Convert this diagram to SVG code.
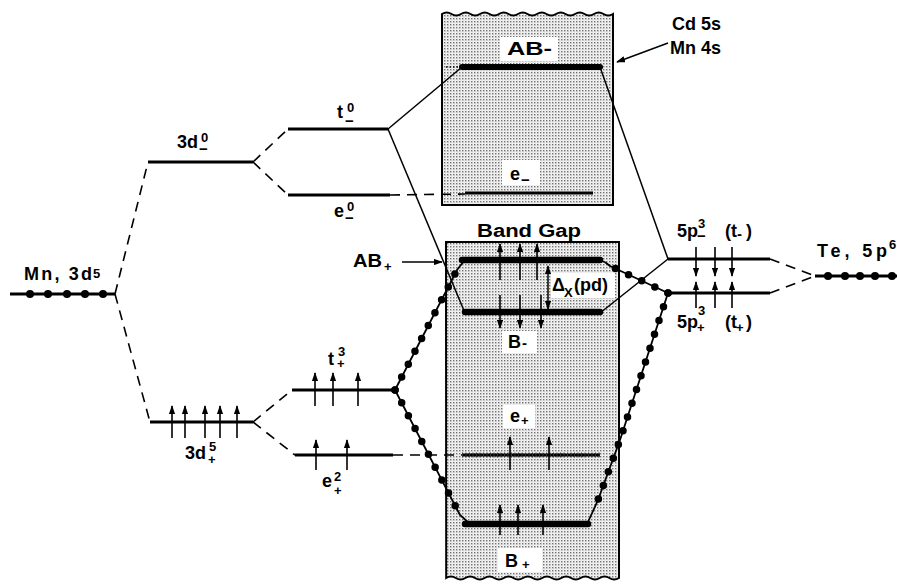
<svg xmlns="http://www.w3.org/2000/svg" width="897" height="588" viewBox="0 0 897 588">
<defs>
<pattern id="stip" width="3" height="3" patternUnits="userSpaceOnUse"><rect width="3" height="3" fill="#f4f4f4"/><rect x="0" y="0" width="1.4" height="1.4" fill="#707070"/><rect x="1.5" y="1.5" width="0.8" height="0.8" fill="#b0b0b0"/></pattern>
<marker id="ah" viewBox="0 0 10 7" refX="9" refY="3.5" markerWidth="9" markerHeight="6.5" markerUnits="userSpaceOnUse" orient="auto-start-reverse"><path d="M0,0 L10,3.5 L0,7 Z" fill="#000"/></marker>
</defs>
<style>
.lvl{stroke:#000;stroke-width:3;fill:none}
.thick{stroke:#000;stroke-width:6.5;fill:none;stroke-linecap:round;stroke-linejoin:round}
.dash{stroke:#000;stroke-width:1.6;fill:none;stroke-dasharray:10 7}
.thin{stroke:#000;stroke-width:1.5;fill:none}
.chain{stroke:#000;stroke-width:1.8;fill:none}
.dots{stroke:#000;stroke-width:7.5;fill:none;stroke-dasharray:0 14.5;stroke-linecap:round}
.spin{stroke:#000;stroke-width:1.6;fill:none;marker-end:url(#ah)}
.box{fill:url(#stip);stroke:#000;stroke-width:2}
.bg{fill:#fff}
.t{font-family:"Liberation Sans",Arial,Helvetica,sans-serif;font-weight:bold;font-size:18px;fill:#000}
.s{font-size:13px}
.m{font-size:15px}
</style>
<rect width="897" height="588" fill="#fff"/>

<g id="box-upper">
<path class="box" d="M442,205 V14 q4.75,-3 9.5,0 t9.5,0 t9.5,0 t9.5,0 t9.5,0 t9.5,0 t9.5,0 t9.5,0 t9.5,0 t9.5,0 t9.5,0 t9.5,0 t9.5,0 t9.5,0 t9.5,0 t9.5,0 t9.5,0 t9.5,0 V205 Z"/>
</g>
<g id="box-lower">
<path class="box" d="M446,242 H619 V578 q-4.8,3 -9.6,0 t-9.6,0 t-9.6,0 t-9.6,0 t-9.6,0 t-9.6,0 t-9.6,0 t-9.6,0 t-9.6,0 t-9.6,0 t-9.6,0 t-9.6,0 t-9.6,0 t-9.6,0 t-9.6,0 t-9.6,0 t-9.6,0 t-9.6,0 Z"/>
</g>

<g id="connectors">
<path class="dash" d="M115,294 L148,162"/>
<path class="dash" d="M115,294 L150,422"/>
<path class="dash" d="M253,162 L288,129"/>
<path class="dash" d="M253,162 L288,195"/>
<path class="dash" d="M390,195 L465,194"/>
<path class="dash" d="M253,422 L292,390"/>
<path class="dash" d="M253,422 L295,455"/>
<path class="dash" d="M393,455 L462,455"/>
<path class="dash" d="M770,259 L815,276"/>
<path class="dash" d="M770,293 L815,276"/>
<path class="thin" d="M388,129 L462,67"/>
<path class="thin" d="M388,129 L465,313"/>
<path class="thin" d="M600,67 L668,259"/>
<path class="thin" d="M600,313 L668,259"/>
<path class="chain" d="M395,390 L457,270 L464,261"/>
<path class="dots" d="M395,390 L457,270"/>
<path class="chain" d="M395,390 L460,515 L470,524"/>
<path class="dots" d="M395,390 L460,515"/>
<path class="chain" d="M600,260 Q606,262 610,266 L668,293"/>
<path class="dots" d="M668,293 L610,266"/>
<path class="chain" d="M668,293 L620,440 L598,500 L588,522"/>
<path class="dots" d="M668,293 L620,440 L598,500"/>
<path class="thin" d="M668,43 L617,62" marker-end="url(#ah)"/>
<path class="thin" d="M402,262 L442,262" marker-end="url(#ah)"/>
</g>

<g id="mn-3d5">
<path class="lvl" d="M10,294 H115"/>
<circle cx="30" cy="294" r="4"/><circle cx="48" cy="294" r="4"/><circle cx="67" cy="294" r="4"/><circle cx="85" cy="294" r="4"/><circle cx="103" cy="294" r="4"/>
<text class="t" x="24" y="280" textLength="68" lengthAdjust="spacing">Mn, 3d</text>
<text class="t s" x="93" y="278">5</text>
</g>

<g id="d-minus">
<path class="lvl" d="M148,162 H253"/>
<text class="t" x="177" y="148">3d</text>
<text class="t s" x="201" y="142">0</text>
<text class="t m" x="199" y="154">−</text>
</g>

<g id="t-minus">
<path class="lvl" d="M288,129 H388"/>
<text class="t" x="337" y="118">t</text>
<text class="t s" x="347" y="112">0</text>
<text class="t m" x="345" y="126">−</text>
</g>

<g id="e-minus">
<path class="lvl" d="M288,195 H390"/>
<text class="t" x="334" y="217">e</text>
<text class="t s" x="347" y="211">0</text>
<text class="t m" x="345" y="223">−</text>
</g>

<g id="d-plus">
<path class="lvl" d="M150,422 H253"/>
<path class="spin" d="M172,438 V406"/><path class="spin" d="M185,438 V406"/><path class="spin" d="M205,438 V406"/><path class="spin" d="M220,438 V406"/><path class="spin" d="M237,438 V406"/>
<text class="t" x="185" y="459">3d</text>
<text class="t s" x="209" y="451">5</text>
<text class="t s" x="208" y="464">+</text>
</g>

<g id="t-plus">
<path class="lvl" d="M292,390 H395"/>
<path class="spin" d="M315,406 V373"/><path class="spin" d="M333,406 V373"/><path class="spin" d="M358,406 V373"/>
<text class="t" x="328" y="365">t</text>
<text class="t s" x="338" y="356">3</text>
<text class="t s" x="337" y="368">+</text>
</g>

<g id="e-plus">
<path class="lvl" d="M295,455 H393"/>
<path class="spin" d="M316,470 V440"/><path class="spin" d="M347,470 V440"/>
<text class="t" x="322" y="487">e</text>
<text class="t s" x="334" y="481">2</text>
<text class="t s" x="334" y="495">+</text>
</g>

<g id="ab-minus">
<path class="thin" d="M446,67 H462" stroke-dasharray="1.5 2"/>
<path d="M462,67 H600" stroke="#000" stroke-width="6" stroke-linecap="round"/>
<rect class="bg" x="500" y="37" width="58" height="24"/>
<text class="t" x="507" y="55" textLength="45" lengthAdjust="spacingAndGlyphs">AB-</text>
</g>

<g id="e-minus-band">
<path d="M465,193 H593" stroke="#000" stroke-width="3"/>
<rect class="bg" x="502" y="160" width="38" height="25"/>
<text class="t" x="510" y="180">e</text>
<text class="t m" x="521" y="185">−</text>
</g>

<g id="band-gap">
<text class="t" x="477" y="237" textLength="104" lengthAdjust="spacingAndGlyphs">Band Gap</text>
</g>

<g id="cd-mn-label">
<text class="t" x="672" y="30">Cd 5s</text>
<text class="t" x="670" y="54">Mn 4s</text>
</g>

<g id="ab-plus">
<path class="spin" d="M500,280 V244"/><path class="spin" d="M520,280 V244"/><path class="spin" d="M537,280 V244"/>
<path class="thick" d="M462,260 H600"/>
<text class="t" x="353" y="267" textLength="29" lengthAdjust="spacingAndGlyphs">AB</text>
<text class="t s" x="384" y="271">+</text>
</g>

<g id="b-minus">
<path class="spin" d="M500,295 V328"/><path class="spin" d="M520,295 V328"/><path class="spin" d="M541,295 V328"/>
<path class="thick" d="M465,312 H600"/>
<rect class="bg" x="502" y="331" width="35" height="22"/>
<text class="t" x="508" y="348">B</text>
<text class="t m" x="522" y="348">-</text>
</g>

<g id="delta-x">
<rect class="bg" x="551" y="273" width="64" height="25"/>
<path class="thin" d="M548,266 V309" marker-start="url(#ah)" marker-end="url(#ah)"/>
<text class="t" x="552" y="291">Δ</text>
<text class="t s" x="564" y="297">X</text>
<text class="t" x="574" y="291">(pd)</text>
</g>

<g id="e-plus-band">
<path d="M462,455 H600" stroke="#000" stroke-width="3"/>
<path d="M462,455 H600" stroke="#333" stroke-width="5" stroke-dasharray="1 2.5"/>
<path class="spin" d="M510,470 V437"/><path class="spin" d="M549,470 V437"/>
<rect class="bg" x="503" y="405" width="32" height="23"/>
<text class="t" x="510" y="422">e</text>
<text class="t s" x="521" y="425">+</text>
</g>

<g id="b-plus">
<path class="thick" d="M465,524 H588"/>
<path class="spin" d="M500,535 V505"/><path class="spin" d="M518,535 V505"/><path class="spin" d="M543,535 V505"/>
<rect class="bg" x="498" y="548" width="44" height="24"/>
<text class="t" x="505" y="567">B</text>
<text class="t s" x="522" y="569">+</text>
</g>

<g id="p-minus">
<path class="lvl" d="M668,259 H770"/>
<path class="spin" d="M696,247 V276"/><path class="spin" d="M715,247 V276"/><path class="spin" d="M732,247 V276"/>
<text class="t" x="677" y="237">5p</text>
<text class="t s" x="698" y="228">3</text>
<text class="t m" x="697" y="241">−</text>
<text class="t" x="725" y="237">(t</text>
<text class="t m" x="737" y="239">-</text>
<text class="t" x="746" y="237">)</text>
</g>

<g id="p-plus">
<path class="lvl" d="M668,293 H770"/>
<path class="spin" d="M696,308 V282"/><path class="spin" d="M715,308 V282"/><path class="spin" d="M732,308 V282"/>
<text class="t" x="677" y="328">5p</text>
<text class="t s" x="698" y="315">3</text>
<text class="t s" x="697" y="332">+</text>
<text class="t" x="725" y="328">(t</text>
<text class="t s" x="736" y="332">+</text>
<text class="t" x="746" y="328">)</text>
</g>

<g id="te-5p6">
<path class="lvl" d="M815,276 H897"/>
<circle cx="828" cy="276" r="4"/><circle cx="845" cy="276" r="4"/><circle cx="860" cy="276" r="4"/><circle cx="875" cy="276" r="4"/><circle cx="892" cy="276" r="4"/>
<text class="t" x="817" y="257" textLength="70" lengthAdjust="spacing">Te, 5p</text>
<text class="t s" x="889" y="249">6</text>
</g>
</svg>
